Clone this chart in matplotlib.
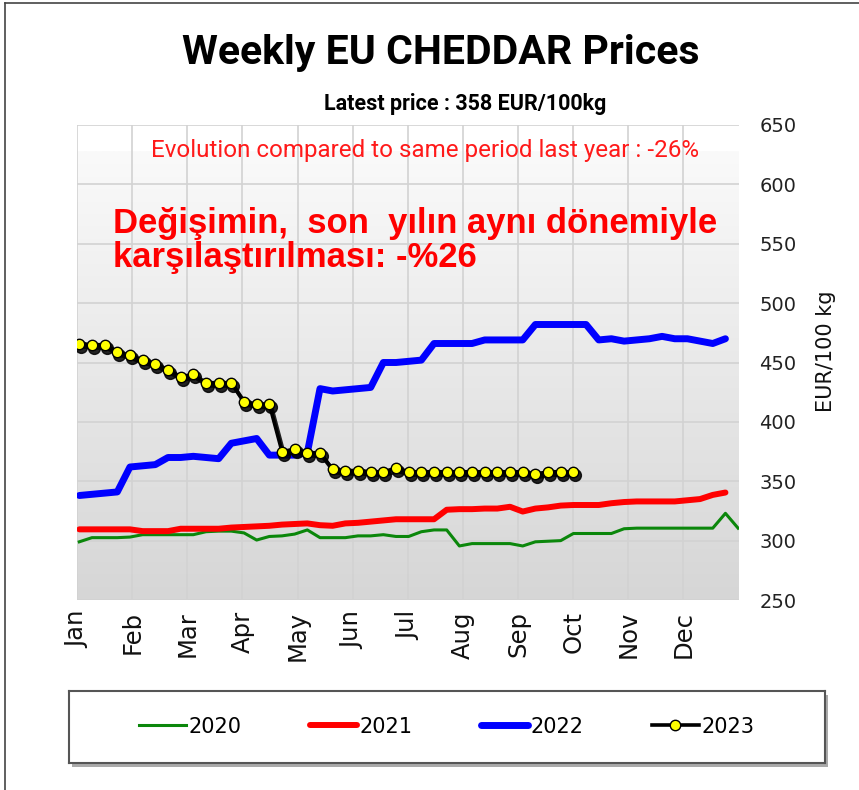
import numpy as np
import matplotlib
matplotlib.use('Agg')
from matplotlib import pyplot as plt
from matplotlib import font_manager, transforms
from matplotlib.colors import LinearSegmentedColormap
from matplotlib.patches import Rectangle
from matplotlib.lines import Line2D

# weekly prices, EUR/100kg
months = ['Jan', 'Feb', 'Mar', 'Apr', 'May', 'Jun', 'Jul', 'Aug', 'Sep', 'Oct', 'Nov', 'Dec']
years = ['2020', '2021', '2022', '2023']

p2020 = [299, 302.5, 302.5, 302.5, 303, 305, 305, 305, 305, 305,
         307.5, 308, 308, 306.5, 300.5, 303.5, 304, 305.5, 309, 302.5,
         302.5, 302.5, 304, 304, 305, 303.5, 303.5, 307.5, 309, 309,
         295.5, 297.5, 297.5, 297.5, 297.5, 295.5, 299, 299.5, 300, 306,
         306, 306, 306, 310, 310.5, 310.5, 310.5, 310.5, 310.5, 310.5,
         310.5, 323, 310.5]
p2021 = [309.5, 309.5, 309.5, 309.5, 309.5, 308, 308, 308, 310, 310,
         310, 310, 311, 311.5, 312, 312.5, 313.5, 314, 314.5, 313,
         312.5, 314.5, 315, 316, 317, 318, 318, 318, 318, 326,
         326.5, 326.5, 327, 327, 328.5, 324.5, 327, 328, 329.5, 330,
         330, 330, 331.5, 332.5, 333, 333, 333, 333, 334, 335,
         338.5, 340.5]
p2022 = [338, 339, 340, 341, 362, 363, 364, 370, 370, 371,
         370, 369, 382, 384, 386, 372, 372, 372, 374, 428,
         426, 427, 428, 429, 450, 450, 451, 452, 466, 466,
         466, 466, 469, 469, 469, 469, 482, 482, 482, 482,
         482, 469, 470, 468, 469, 470, 472, 470, 470, 468,
         466, 470]
p2023 = [466, 465, 465, 459, 456, 452, 449, 444, 438, 440,
         433, 433, 433, 417, 415, 415, 375, 377, 374, 374,
         360, 359, 359, 358, 358, 361, 358, 358, 358, 358,
         358, 358, 358, 358, 358, 358, 356, 358, 358, 358]

W, H = 859, 790
def fx(px):
    return px / W
def fy(py):
    return 1 - py / H

names = {f.name for f in font_manager.fontManager.ttflist}
narrow = 'Liberation Sans Narrow' if 'Liberation Sans Narrow' in names else 'Roboto'

fig = plt.figure(figsize=(W / 100, H / 100), dpi=100)
ax = fig.add_axes([fx(77), fy(600), fx(661.6), 475 / H])

x0, x1 = -0.18, 52.04
bg = LinearSegmentedColormap.from_list('bg', ['#d6d6d6', '#fafafa'])
ax.imshow(np.linspace(0, 1, 256).reshape(-1, 1), cmap=bg, origin='lower',
          extent=[x0, x1, 250, 628], aspect='auto', zorder=0)

l20, = ax.plot(np.arange(len(p2020)), p2020, color='#0b870b', lw=2.2, zorder=2)
l21, = ax.plot(np.arange(len(p2021)), p2021, color='#ff0000', lw=4.3,
               solid_capstyle='round', zorder=3)
l22, = ax.plot(np.arange(len(p2022)), p2022, color='#0000ff', lw=5,
               solid_capstyle='round', zorder=4)
shadow = ax.transData + transforms.ScaledTranslation(0.02, -0.03, fig.dpi_scale_trans)
ax.plot(np.arange(len(p2023)), p2023, color='black', lw=3, marker='o', ms=8.5,
        alpha=0.85, transform=shadow, zorder=5)
l23, = ax.plot(np.arange(len(p2023)), p2023, color='black', lw=2.6, marker='o',
               ms=7.5, mfc='#ffff00', mec='black', mew=1, zorder=6)

ax.set_xlim(x0, x1)
ax.set_ylim(250, 650)
ax.set_yticks(range(250, 651, 50))
ax.set_xticks(x0 + np.arange(12) * (x1 - x0) / 12)
ax.set_xticklabels(months, rotation=90, va='top', ha='center')
ax.yaxis.tick_right()
ax.tick_params(axis='y', length=0, pad=15, labelsize=14, labelcolor='#222222')
ax.tick_params(axis='x', length=0, pad=8, labelsize=17.5, labelcolor='#111111')
ax.grid(color='#d2d2d2', lw=1.2)
ax.set_axisbelow(True)
for s in ax.spines.values():
    s.set_visible(False)

fig.text(fx(826), fy(351), 'EUR/100 kg', rotation=90, fontsize=15,
         ha='center', va='center', color='#111111')

fig.text(fx(441), fy(53), 'Weekly EU CHEDDAR Prices', fontsize=29.5,
         fontweight='bold', family=narrow, ha='center', va='center')
fig.text(fx(465), fy(104), 'Latest price : 358 EUR/100kg', fontsize=15.5,
         fontweight='bold', family=narrow, ha='center', va='center')
fig.text(fx(425), fy(151), 'Evolution compared to same period last year : -26%',
         fontsize=17.4, family=narrow, color='#ff1a1a', ha='center', va='center')
fig.text(fx(113), fy(223), 'Değişimin,  son  yılın aynı dönemiyle', fontsize=24.9,
         fontweight='bold', family='Liberation Sans', color='#ff0000',
         ha='left', va='center')
fig.text(fx(113), fy(258), 'karşılaştırılması: -%26', fontsize=24.9,
         fontweight='bold', family='Liberation Sans', color='#ff0000',
         ha='left', va='center')

# outer frame
fig.add_artist(Line2D([fx(5), fx(5)], [fy(3), 0], color='#444444', lw=1.2))
fig.add_artist(Line2D([fx(5), 1], [fy(3), fy(3)], color='#444444', lw=1.2))

# legend box with shadow
fig.patches.append(Rectangle((fx(72), fy(767)), fx(756), 72 / H, facecolor='#aaaaaa',
                             edgecolor='none', transform=fig.transFigure, zorder=-1))
lax = fig.add_axes([fx(68.5), fy(762.7), fx(756), 72 / H], zorder=2)
lax.set_facecolor('white')
lax.set_xticks([])
lax.set_yticks([])
for s in lax.spines.values():
    s.set_color('#555555')
    s.set_linewidth(1.5)
lax.legend([l20, l21, l22, l23], years, loc='center', ncol=4, frameon=False,
           numpoints=1, fontsize=15, handlelength=2.25, handletextpad=0.12,
           columnspacing=3.3)

fig.savefig('out.png', dpi=100)
